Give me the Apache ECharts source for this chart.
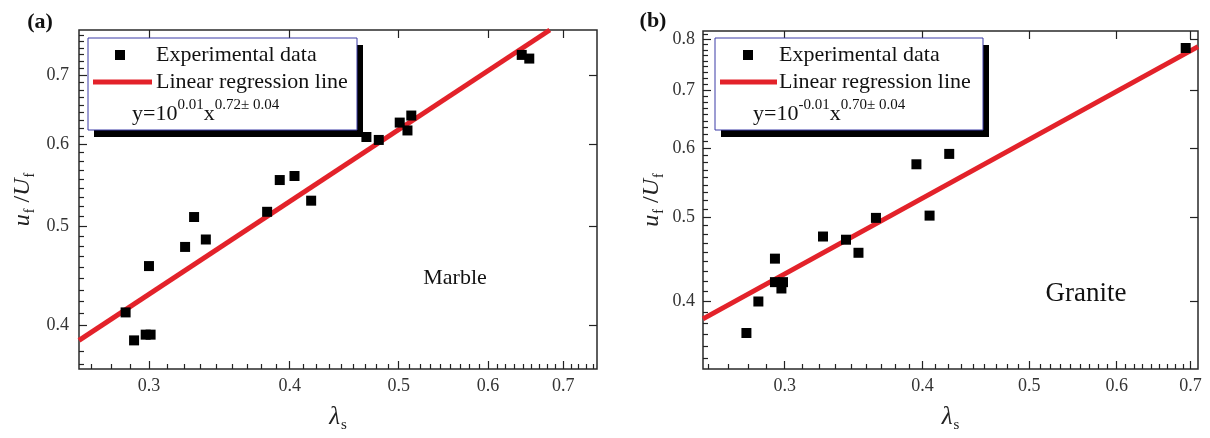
<!DOCTYPE html>
<html><head><meta charset="utf-8">
<script src="https://cdn.jsdelivr.net/npm/echarts@6/dist/echarts.min.js"></script>
<style>html,body{margin:0;padding:0;background:#fff}#c{width:1210px;height:438px}</style>
</head><body><div id="c"></div>
<script>
// ---------- data ----------
const seriesNames = ['Experimental data', 'Linear regression line'];
// (a) Marble
const marbleX = [0.286, 0.291, 0.298, 0.301, 0.300, 0.323, 0.329, 0.337, 0.382, 0.392, 0.404, 0.418, 0.468, 0.480, 0.501, 0.509, 0.513, 0.643, 0.653];
const marbleY = [0.412, 0.387, 0.392, 0.392, 0.457, 0.477, 0.510, 0.485, 0.516, 0.554, 0.559, 0.529, 0.610, 0.606, 0.630, 0.619, 0.640, 0.733, 0.727];
const marbleLineX = [0.260, 0.681];
const marbleLineY = [0.387, 0.775];
const marbleXRange = [0.260, 0.750];
const marbleYRange = [0.363, 0.775];
const marbleFit = ['0.01', '0.72\u00b1 0.04'];
// (b) Granite
const graniteX = [0.277, 0.284, 0.294, 0.294, 0.299, 0.298, 0.325, 0.341, 0.350, 0.363, 0.395, 0.406, 0.423, 0.693];
const graniteY = [0.368, 0.400, 0.448, 0.421, 0.421, 0.414, 0.475, 0.471, 0.455, 0.499, 0.575, 0.502, 0.591, 0.782];
const graniteLineX = [0.253, 0.711];
const graniteLineY = [0.382, 0.785];
const graniteXRange = [0.253, 0.711];
const graniteYRange = [0.3346, 0.818];
const graniteFit = ['-0.01', '0.70\u00b1 0.04'];
// tick labels
const xTickLabels = [0.3, 0.4, 0.5, 0.6, 0.7];
const marbleYTickLabels = [0.4, 0.5, 0.6, 0.7];
const graniteYTickLabels = [0.4, 0.5, 0.6, 0.7, 0.8];

// ---------- helpers ----------
const FONT = "'Liberation Serif','Times New Roman',serif";
const INK = '#222';
const RED = '#e3222a';
const lg = v => Math.log10(v);
function minorTicks(range) {
  const out = [];
  const start = Math.floor(range[0] * 10) / 10, end = Math.ceil(range[1] * 10) / 10;
  for (let i = 0; start + i * 0.1 < end - 1e-9; i++) {
    const a = start + i * 0.1;
    for (let k = 1; k <= 8; k++) {
      const v = a + k * 0.1 / 9;
      if (v > range[0] && v < range[1]) out.push(lg(v));
    }
  }
  return out;
}
const tickLine = { color: INK, width: 1.2 };
const labelStyle = { fontFamily: FONT, fontSize: 18, color: '#333' };
const xName = '{i|\u03bb}{s|s}';
const xNameStyle = {
  fontFamily: FONT, color: INK,
  rich: {
    i: { fontFamily: FONT, fontStyle: 'italic', fontSize: 25, color: INK },
    s: { fontFamily: FONT, fontSize: 15, color: INK, padding: [16, 0, 0, 1] }
  }
};
const yName = '{i|u}{s|f}{n| /}{i|U}{s|f}';
const yNameStyle = {
  fontFamily: FONT, color: INK,
  rich: {
    i: { fontFamily: FONT, fontStyle: 'italic', fontSize: 24, color: INK },
    n: { fontFamily: FONT, fontSize: 24, color: INK },
    s: { fontFamily: FONT, fontSize: 14, color: INK, padding: [14, 0, 0, 1] }
  }
};
function makeX(grid, range, majors, nameGap) {
  const base = { type: 'value', gridIndex: grid, min: lg(range[0]), max: lg(range[1]),
    splitLine: { show: false }, axisLine: { show: false, onZero: false } };
  const maj = majors.map(lg);
  return [
    Object.assign({}, base, { position: 'bottom', name: xName, nameLocation: 'middle', nameGap: nameGap, nameTextStyle: xNameStyle,
      axisTick: { show: true, inside: true, length: 8, customValues: maj, lineStyle: tickLine },
      axisLabel: Object.assign({ show: true, customValues: maj, margin: 8, formatter: v => Math.pow(10, v).toFixed(1) }, labelStyle) }),
    Object.assign({}, base, { position: 'bottom',
      axisTick: { show: true, inside: true, length: 5, customValues: minorTicks(range), lineStyle: tickLine },
      axisLabel: { show: false } }),
    Object.assign({}, base, { position: 'top',
      axisTick: { show: true, inside: true, length: 8, customValues: maj, lineStyle: tickLine },
      axisLabel: { show: false } })
  ];
}
function makeY(grid, range, majors, nameGap, labelMargin) {
  const base = { type: 'value', gridIndex: grid, min: lg(range[0]), max: lg(range[1]),
    splitLine: { show: false }, axisLine: { show: false, onZero: false } };
  const maj = majors.map(lg);
  return [
    Object.assign({}, base, { position: 'left', name: yName, nameLocation: 'middle', nameGap: nameGap, nameTextStyle: yNameStyle,
      axisTick: { show: true, inside: true, length: 8, customValues: maj, lineStyle: tickLine },
      axisLabel: Object.assign({ show: true, customValues: maj, margin: labelMargin, formatter: v => Math.pow(10, v).toFixed(1) }, labelStyle) }),
    Object.assign({}, base, { position: 'left',
      axisTick: { show: true, inside: true, length: 5, customValues: minorTicks(range), lineStyle: tickLine },
      axisLabel: { show: false } }),
    Object.assign({}, base, { position: 'right',
      axisTick: { show: true, inside: true, length: 8, customValues: maj, lineStyle: tickLine },
      axisLabel: { show: false } })
  ];
}
const pts = (xs, ys) => xs.map((x, i) => [lg(x), lg(ys[i])]);

function legendBox(x, y, w, h, fit, symX, lineX0, lineX1, textX, fitX) {
  const els = [];
  els.push({ type: 'rect', z: 50, shape: { x: x + 6, y: y + 7, width: w, height: h }, style: { fill: '#000' } });
  els.push({ type: 'rect', z: 51, shape: { x: x, y: y, width: w, height: h }, style: { fill: '#fff', stroke: '#3b3ba6', lineWidth: 1 } });
  els.push({ type: 'rect', z: 52, shape: { x: symX - 5, y: 50, width: 10, height: 10 }, style: { fill: '#000' } });
  els.push({ type: 'line', z: 52, shape: { x1: lineX0, y1: 82, x2: lineX1, y2: 82 }, style: { stroke: RED, lineWidth: 5 } });
  els.push({ type: 'text', z: 52, x: textX, y: 55, style: { text: seriesNames[0], font: '22px ' + FONT, fill: '#111', verticalAlign: 'middle' } });
  els.push({ type: 'text', z: 52, x: textX, y: 82, style: { text: seriesNames[1], font: '22px ' + FONT, fill: '#111', verticalAlign: 'middle' } });
  els.push({ type: 'text', z: 52, x: fitX, y: 98, style: {
    text: '{b|y=10}{p|' + fit[0] + '}{b|x}{p|' + fit[1] + '}',
    rich: {
      b: { fontFamily: FONT, fontSize: 22, fill: '#111', verticalAlign: 'middle' },
      p: { fontFamily: FONT, fontSize: 15, fill: '#111', verticalAlign: 'middle', padding: [0, 0, 17, 0] }
    }
  } });
  return els;
}

const option = {
  backgroundColor: '#fff',
  animation: false,
  grid: [
    { left: 79, top: 30, width: 518, height: 349, show: true, borderColor: '#2a2a2a', borderWidth: 1.5, backgroundColor: 'transparent' },
    { left: 703, top: 31, width: 495, height: 345, show: true, borderColor: '#2a2a2a', borderWidth: 1.5, backgroundColor: 'transparent' }
  ],
  xAxis: [].concat(makeX(0, marbleXRange, xTickLabels, 33), makeX(1, graniteXRange, xTickLabels, 33)),
  yAxis: [].concat(makeY(0, marbleYRange, marbleYTickLabels, 42, 10), makeY(1, graniteYRange, graniteYTickLabels, 37, 8)),
  series: [
    { name: seriesNames[1], type: 'line', xAxisIndex: 0, yAxisIndex: 0, data: pts(marbleLineX, marbleLineY), symbol: 'none', clip: true,
      lineStyle: { color: RED, width: 5 }, z: 2 },
    { name: seriesNames[0], type: 'scatter', xAxisIndex: 0, yAxisIndex: 0, data: pts(marbleX, marbleY), symbol: 'rect', symbolSize: 10,
      itemStyle: { color: '#000', opacity: 1 }, z: 3 },
    { name: seriesNames[1], type: 'line', xAxisIndex: 3, yAxisIndex: 3, data: pts(graniteLineX, graniteLineY), symbol: 'none', clip: true,
      lineStyle: { color: RED, width: 5 }, z: 2 },
    { name: seriesNames[0], type: 'scatter', xAxisIndex: 3, yAxisIndex: 3, data: pts(graniteX, graniteY), symbol: 'rect', symbolSize: 10,
      itemStyle: { color: '#000', opacity: 1 }, z: 3 }
  ],
  graphic: [].concat(
    legendBox(88, 38, 269, 92, marbleFit, 120, 93, 152, 156, 132),
    legendBox(715, 38, 268, 92, graniteFit, 748, 720, 777, 779, 753),
    [
      { type: 'text', x: 40, y: 22, style: { text: '(a)', font: 'bold 22px ' + FONT, fill: '#111', align: 'center', verticalAlign: 'middle' } },
      { type: 'text', x: 653, y: 21, style: { text: '(b)', font: 'bold 22px ' + FONT, fill: '#111', align: 'center', verticalAlign: 'middle' } },
      { type: 'text', x: 455, y: 278, style: { text: 'Marble', font: '22px ' + FONT, fill: '#111', align: 'center', verticalAlign: 'middle' } },
      { type: 'text', x: 1086, y: 294, style: { text: 'Granite', font: '27px ' + FONT, fill: '#111', align: 'center', verticalAlign: 'middle' } }
    ]
  )
};
const chart = echarts.init(document.getElementById('c'), null, { renderer: 'canvas' });
chart.setOption(option);
</script>
</body></html>
